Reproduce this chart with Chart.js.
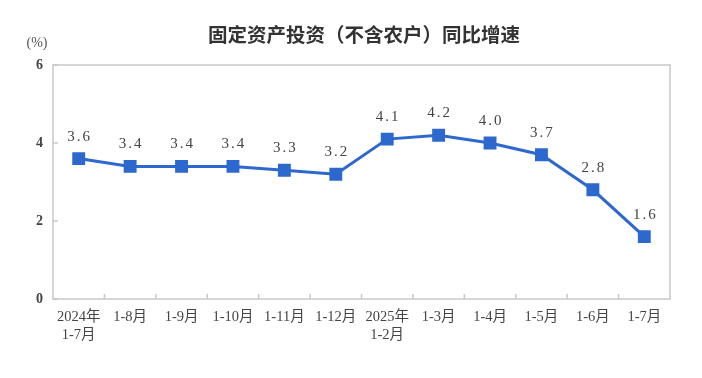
<!DOCTYPE html>
<html>
<head>
<meta charset="utf-8">
<script src="https://cdn.jsdelivr.net/npm/chart.js@4.4.1/dist/chart.umd.min.js"></script>
<style>
  html, body { margin: 0; padding: 0; background: #fff; }
  #wrap { width: 702px; height: 378px; position: relative; }
</style>
</head>
<body>
<div id="wrap"><canvas id="myLineChart"></canvas></div>
<script>
var categories = [['2024年', '1-7月'], '1-8月', '1-9月', '1-10月', '1-11月', '1-12月',
                  ['2025年', '1-2月'], '1-3月', '1-4月', '1-5月', '1-6月', '1-7月'];
var growth = [3.6, 3.4, 3.4, 3.4, 3.3, 3.2, 4.1, 4.2, 4.0, 3.7, 2.8, 1.6];
var yTicks = [0, 2, 4, 6];

var titleText = '固定资产投资（不含农户）同比增速';
var unitText = '(%)';
var serif = '"Liberation Serif", "Noto Sans CJK SC", serif';

// draws title, unit, box, inner ticks and the value labels
var decor = {
    id: 'decor',
    afterDraw: function(chart) {
        var ctx = chart.ctx;
        var area = chart.chartArea;
        var x = chart.scales.x, y = chart.scales.y;
        ctx.save();
        ctx.fillStyle = '#333';
        ctx.font = 'bold 19.5px "Noto Sans CJK SC", sans-serif';
        ctx.textAlign = 'center';
        ctx.textBaseline = 'middle';
        ctx.fillText(titleText, 364, 35);

        ctx.font = '14px ' + serif;
        ctx.fillStyle = '#555';
        ctx.fillText(unitText, 37, 43);

        ctx.strokeStyle = '#c8c8c8';
        ctx.lineWidth = 1.5;
        ctx.strokeRect(area.left, area.top, area.right - area.left, area.bottom - area.top);

        ctx.beginPath();
        yTicks.forEach(function(v) {
            var py = y.getPixelForValue(v);
            ctx.moveTo(area.left, py);
            ctx.lineTo(area.left + 5, py);
        });
        for (var i = 1; i < categories.length; i++) {
            var px = (x.getPixelForValue(i - 1) + x.getPixelForValue(i)) / 2;
            ctx.moveTo(px, area.bottom);
            ctx.lineTo(px, area.bottom - 5);
        }
        ctx.stroke();

        var meta = chart.getDatasetMeta(0);
        ctx.font = '15px ' + serif;
        ctx.fillStyle = '#444';
        ctx.letterSpacing = '2px';
        meta.data.forEach(function(pt, i) {
            ctx.fillText(growth[i].toFixed(1), pt.x + 1, pt.y - 22);
        });
        ctx.restore();
    }
};

var ctx = document.getElementById('myLineChart');
var myLineChart = new Chart(ctx, {
    type: 'line',
    data: {
        labels: categories,
        datasets: [{
            data: growth,
            borderColor: '#2d68cf',
            backgroundColor: '#2d68cf',
            borderWidth: 3,
            pointStyle: 'rect',
            pointRadius: 7,
            pointHoverRadius: 7,
            tension: 0
        }]
    },
    options: {
        responsive: true,
        maintainAspectRatio: false,
        animation: false,
        layout: { padding: { top: 65, right: 32, left: 0, bottom: 0 } },
        plugins: {
            legend: { display: false },
            tooltip: { enabled: false }
        },
        scales: {
            x: {
                offset: true,
                grid: { display: false, drawTicks: false },
                border: { display: false },
                ticks: {
                    color: '#444',
                    font: { family: serif, size: 14.5, lineHeight: 1.25 },
                    padding: 9,
                    maxRotation: 0,
                    autoSkip: false
                },
                afterFit: function(s) { s.height = 79; }
            },
            y: {
                min: 0,
                max: 6,
                grid: { display: false, drawTicks: false },
                border: { display: false },
                ticks: {
                    stepSize: 2,
                    color: '#444',
                    font: { family: serif, size: 14, weight: 'bold' },
                    padding: 10
                },
                afterFit: function(s) { s.width = 53; }
            }
        }
    },
    plugins: [decor]
});
</script>
</body>
</html>
